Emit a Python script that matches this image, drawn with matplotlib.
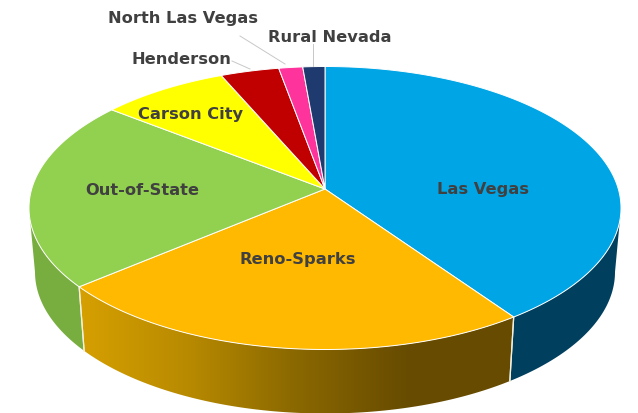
import numpy as np
import matplotlib
matplotlib.use("Agg")
import matplotlib.pyplot as plt
from matplotlib.colors import LinearSegmentedColormap
from matplotlib.patches import Polygon

# --- data (clockwise from 12 o'clock)
categories = ["Las Vegas", "Reno-Sparks", "Out-of-State", "Carson City",
              "Henderson", "North Las Vegas", "Rural Nevada"]
values = [39.0, 26.6, 21.6, 7.1, 3.2, 1.3, 1.2]
top_colors = ["#00A5E6", "#FFB900", "#92D050", "#FFFF00", "#C00000", "#FF339C", "#1F3A6E"]
wall_colors = ["#003F5E", None, "#78AE3F", None, None, None, None]
gradient_stops = ["#D6A000", "#B88A00", "#8A6800", "#684C00", "#664B00"]
label_xy = [(483, 190), (298, 260), (142, 191), (191, 115), (181, 60), (183, 18), (330, 37)]
leaders = {"Henderson": ((232, 62), (250, 70)),
           "North Las Vegas": ((240, 37), (285, 65)),
           "Rural Nevada": ((313, 45), (313, 67))}

# --- layout of the tilted pie in pixel units
W, H = 638, 414
cx, cy, a, b = 325, 209, 296, 141.5       # top ellipse
bcx, bcy, ba, bb = 325, 273, 290, 141.5   # bottom ellipse
apex = (325, 190)

fig = plt.figure(figsize=(W / 100, H / 100), dpi=100)
ax = fig.add_axes([0, 0, 1, 1])
ax.set_xlim(0, W)
ax.set_ylim(H, 0)
ax.axis("off")

fractions = np.array(values) / np.sum(values)
edges = np.concatenate([[0], np.cumsum(fractions)]) * 2 * np.pi


def arc(t0, t1, ex, ey, ea, eb, n=200):
    t = np.linspace(t0, t1, n)
    return ex + ea * np.sin(t), ey - eb * np.cos(t)


def wall_poly(t0, t1):
    x1, y1 = arc(t0, t1, cx, cy, a, b)
    x2, y2 = arc(t1, t0, bcx, bcy, ba, bb)
    return np.column_stack([np.r_[x1, x2], np.r_[y1, y2]])


# side walls (only the part that faces the viewer)
for i, col in enumerate(wall_colors):
    t0 = max(edges[i], np.pi / 2)
    t1 = min(edges[i + 1], 3 * np.pi / 2)
    if t1 <= t0:
        continue
    poly = wall_poly(t0, t1)
    if col is not None:
        ax.fill(poly[:, 0], poly[:, 1], color=col, lw=0, zorder=1)
    else:
        cmap = LinearSegmentedColormap.from_list("wall", gradient_stops)
        x0, x1 = poly[:, 0].min(), poly[:, 0].max()
        y0, y1 = poly[:, 1].min(), poly[:, 1].max()
        im = ax.imshow(np.linspace(0, 1, 256)[None, :], cmap=cmap, aspect="auto",
                       extent=(x0, x1, y1, y0), zorder=1)
        clip = Polygon(poly, closed=True, transform=ax.transData, fc="none", ec="none")
        ax.add_patch(clip)
        im.set_clip_path(clip)
    # thin light seam at the front edges of the wall
    for t in (t0, t1):
        if t not in (np.pi / 2, 3 * np.pi / 2):
            ax.plot([cx + a * np.sin(t), bcx + ba * np.sin(t)],
                    [cy - b * np.cos(t), bcy - bb * np.cos(t)],
                    color="#F4F0E0", lw=0.9, zorder=2)
ax.set_xlim(0, W)
ax.set_ylim(H, 0)

# top face
for i, col in enumerate(top_colors):
    x, y = arc(edges[i], edges[i + 1], cx, cy, a, b)
    ax.fill(np.r_[apex[0], x], np.r_[apex[1], y], facecolor=col,
            edgecolor="#FFFFFF", lw=0.7, joinstyle="round", zorder=3)

# leader lines
for name, (p, q) in leaders.items():
    ax.plot([p[0], q[0]], [p[1], q[1]], color="#C8C8C8", lw=0.7, zorder=4)

# labels
for name, (x, y) in zip(categories, label_xy):
    ax.text(x, y, name, ha="center", va="center", fontsize=11.7,
            fontfamily="DejaVu Sans", fontweight="bold", color="#404040", zorder=5)

fig.savefig("out.png", dpi=100)
